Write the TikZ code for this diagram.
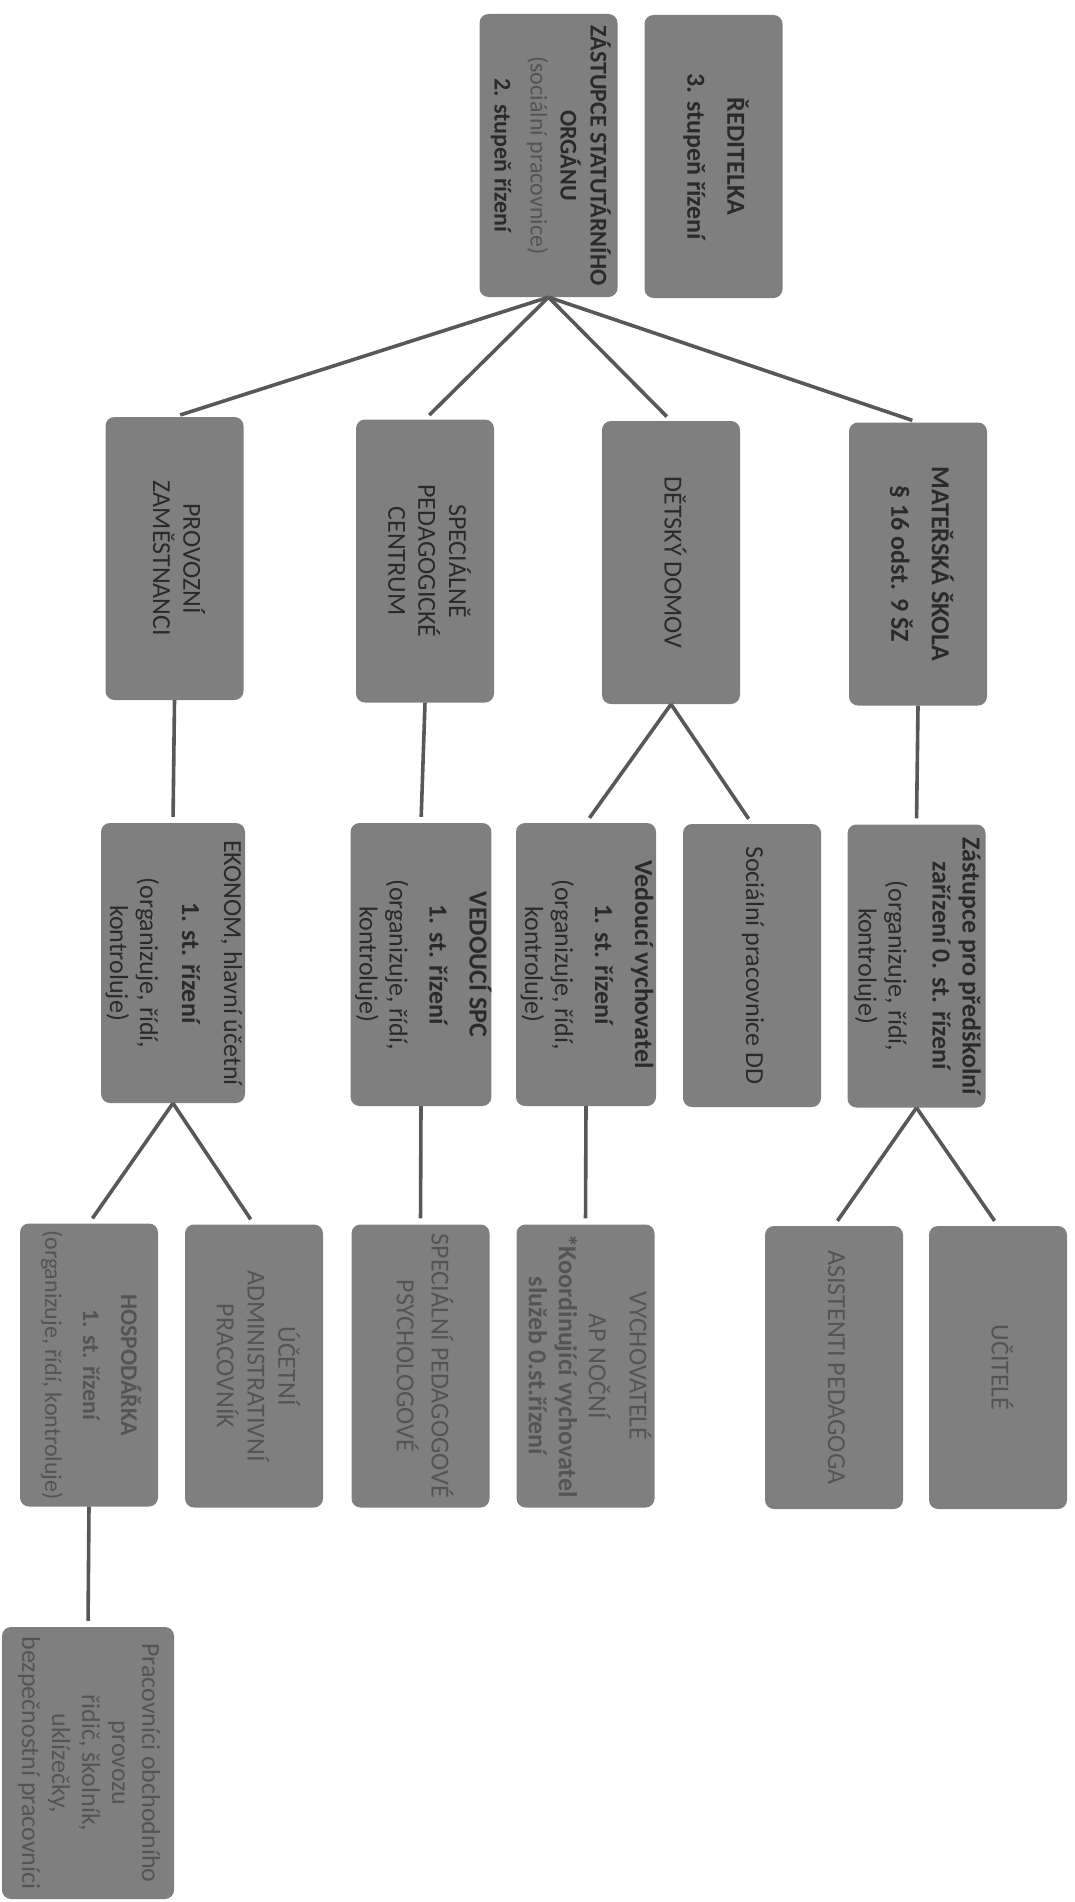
\documentclass[tikz,border=0pt]{standalone}
\usepackage{fontspec}
\usepackage{graphicx}
\setmainfont{Carlito}
\definecolor{boxfill}{HTML}{7F7F7F}
\definecolor{txtdark}{HTML}{2A2A2A}
\definecolor{txtfade}{HTML}{545454}
\definecolor{linec}{HTML}{585858}
\newcommand\rt[1]{\rotatebox{-90}{\begin{tabular}{@{}c@{}}#1\end{tabular}}}
\tikzset{
  orgbox/.style={fill=boxfill, rounded corners=9pt, minimum width=138pt, minimum height=283pt,
     inner sep=0pt, text=txtdark, font=\fontsize{26}{30}\selectfont},
  fade/.style={text=txtfade},
  conn/.style={draw=linec, line width=3.6pt, shorten >=6pt}
}
\begin{document}
\begin{tikzpicture}[x=1pt,y=-1pt]
\useasboundingbox (0,0) rectangle (1074,1902);
% level 0
\node[orgbox, font=\fontsize{24}{30}\selectfont] (zast) at (548.5,155.5) {\rt{\bfseries ZÁSTUPCE STATUTÁRNÍHO\\ \bfseries ORGÁNU\\ \color{txtfade}(sociální pracovnice)\\[6pt] \bfseries 2. stupeň řízení}};
\node[orgbox] (redit) at (713.5,156.5) {\rt{\bfseries ŘEDITELKA\\[10pt] \bfseries 3. stupeň řízení}};
% level 1
\node[orgbox] (prov) at (174.5,558.5) {\rt{PROVOZNÍ\\ ZAMĚSTNANCI}};
\node[orgbox] (spc) at (425,561) {\rt{SPECIÁLNĚ\\ PEDAGOGICKÉ\\ CENTRUM}};
\node[orgbox] (dd) at (671,562.5) {\rt{DĚTSKÝ DOMOV}};
\node[orgbox] (ms) at (918,564) {\rt{\bfseries MATEŘSKÁ ŠKOLA\\[10pt] \bfseries § 16 odst. 9 ŠZ}};
% level 2
\node[orgbox, minimum height=280pt] (ekon) at (173,963) {\rt{EKONOM, hlavní účetní\\[12pt] \bfseries 1. st. řízení\\[12pt] (organizuje, řídí,\\ kontroluje)}};
\node[orgbox] (vspc) at (421,964.5) {\rt{\bfseries VEDOUCÍ SPC\\[10pt] \bfseries 1. st. řízení\\[10pt] (organizuje, řídí,\\ kontroluje)}};
\node[orgbox] (vvych) at (586,964.5) {\rt{\bfseries Vedoucí vychovatel\\[10pt] \bfseries 1. st. řízení\\[10pt] (organizuje, řídí,\\ kontroluje)}};
\node[orgbox] (soc) at (752,965.5) {\rt{Sociální pracovnice DD}};
\node[orgbox] (zpred) at (916.5,966) {\rt{\bfseries Zástupce pro předškolní\\ \bfseries zařízení 0. st. řízení\\[14pt] (organizuje, řídí,\\ kontroluje)}};
% level 3
\node[orgbox, fade, font=\fontsize{24}{30}\selectfont] (hosp) at (89,1365) {\rt{\bfseries HOSPODÁŘKA\\[8pt] \bfseries 1. st. řízení\\[8pt] (organizuje, řídí, kontroluje)}};
\node[orgbox, fade] (ucet) at (254,1366) {\rt{ÚČETNÍ\\ ADMINISTRATIVNÍ\\ PRACOVNÍK}};
\node[orgbox, fade] (sped) at (420.5,1366) {\rt{SPECIÁLNÍ PEDAGOGOVÉ\\[4pt] PSYCHOLOGOVÉ}};
\node[orgbox, fade] (vych) at (585.5,1366) {\rt{VYCHOVATELÉ\\[10pt] AP NOČNÍ\\ \bfseries *Koordinující vychovatel\\ \bfseries služeb 0.st.řízení}};
\node[orgbox, fade] (asist) at (834,1367.5) {\rt{ASISTENTI PEDAGOGA}};
\node[orgbox, fade] (ucit) at (998,1367.5) {\rt{UČITELÉ}};
% level 4
\node[orgbox, fade, minimum width=172pt, minimum height=272pt] (prac) at (88,1763) {\rt{Pracovníci obchodního\\ provozu\\ řidič, školník,\\ uklízečky,\\ bezpečnostní pracovníci}};
% connectors
\draw[conn] (zast.south) -- (prov.north);
\draw[conn] (zast.south) -- (spc.north);
\draw[conn] (zast.south) -- (dd.north);
\draw[conn] (zast.south) -- (ms.north);
\draw[conn] (prov.south) -- (ekon.north);
\draw[conn] (spc.south) -- (vspc.north);
\draw[conn] (dd.south) -- (vvych.north);
\draw[conn] (dd.south) -- (soc.north);
\draw[conn] (ms.south) -- (zpred.north);
\draw[conn] (ekon.south) -- (hosp.north);
\draw[conn] (ekon.south) -- (ucet.north);
\draw[conn] (vspc.south) -- (sped.north);
\draw[conn] (vvych.south) -- (vych.north);
\draw[conn] (zpred.south) -- (asist.north);
\draw[conn] (zpred.south) -- (ucit.north);
\draw[conn] (hosp.south) -- (prac.north);
\end{tikzpicture}
\end{document}
